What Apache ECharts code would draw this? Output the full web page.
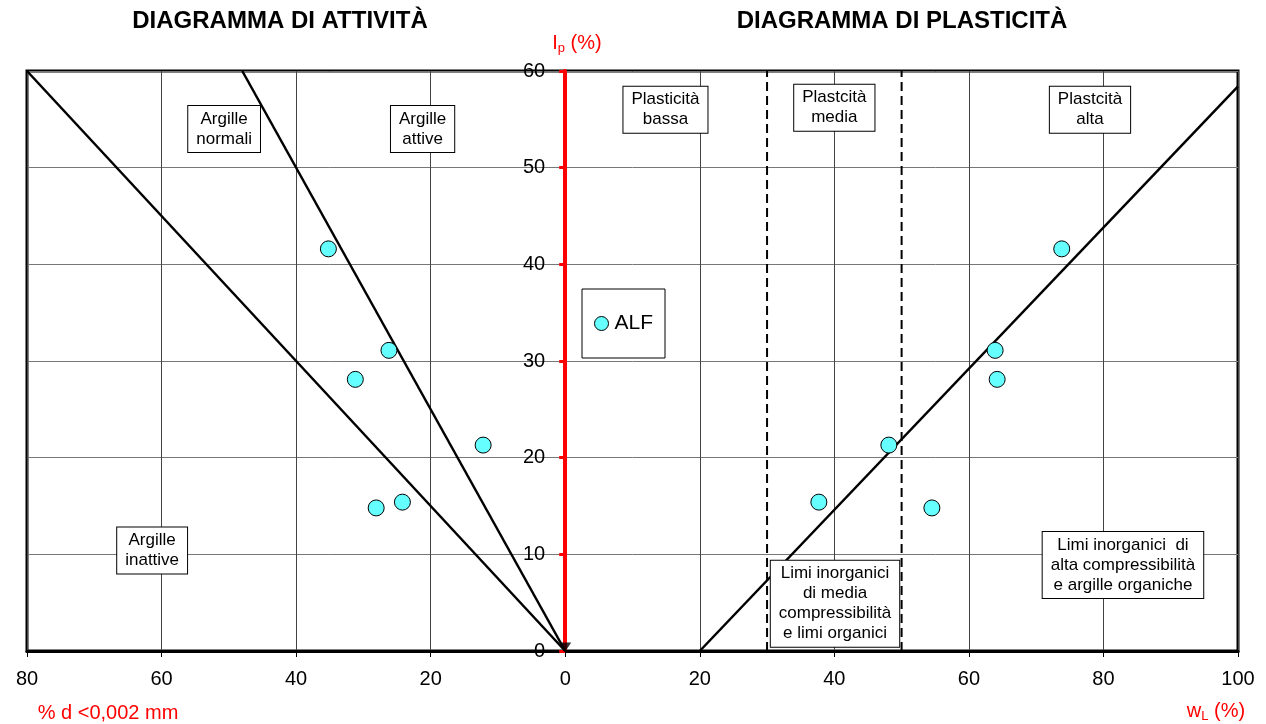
<!DOCTYPE html>
<html>
<head>
<meta charset="utf-8">
<title>Diagramma di attività / plasticità</title>
<script src="https://cdn.jsdelivr.net/npm/echarts@6/dist/echarts.min.js"></script>
<style>
  html, body { margin: 0; padding: 0; background: #fff; }
  #chart { width: 1266px; height: 724px; }
</style>
</head>
<body>
<div id="chart"></div>
<script>
// campioni ALF: Ip comune, frazione argillosa (lato sinistro, asse specchiato) e wL
const ipVals = [41.6, 31.1, 28.1, 21.3, 15.4, 14.8];
const clayVals = [-35.2, -26.2, -31.2, -12.2, -24.2, -28.1];
const wlVals = [73.8, 63.9, 64.2, 48.1, 37.7, 54.5];

// rette di attività (A = 0.75 e A = 1.25), linea A di Casagrande, limiti wL 30 / 50
const activityLow = [[-80, 60], [0, 0]];
const activityHigh = [[-48, 60], [0, 0]];
const aLine = [[20, 0], [100, 58.4]];
const wl30 = [[30, 0], [30, 60]];
const wl50 = [[50, 0], [50, 60]];

// riquadri di testo: [x, y, testo]
const notes = [
    [-50.7, 54.0, 'Argille\nnormali'],
    [-21.2, 54.0, 'Argille\nattive'],
    [-61.4, 10.4, 'Argille\ninattive'],
    [14.9, 56.0, 'Plasticità\nbassa'],
    [40.0, 56.2, 'Plastcità\nmedia'],
    [78.0, 56.0, 'Plastcità\nalta'],
    [40.1, 4.9, 'Limi inorganici\ndi media\ncompressibilità\ne limi organici'],
    [82.9, 8.9, 'Limi inorganici  di\nalta compressibilità\ne argille organiche']
];

const FONT = 'Liberation Sans, Arial, sans-serif';
const GRID_LEFT = 27;

const pointData = clayVals.map((c, i) => [c, ipVals[i]])
    .concat(wlVals.map((w, i) => [w, ipVals[i]]));

const lineSeries = (name, data, dashed) => ({
    name: name,
    type: 'line',
    data: data,
    symbol: 'none',
    silent: true,
    z: 3,
    lineStyle: { color: '#000', width: dashed ? 2 : 2.5, type: dashed ? [9, 5] : 'solid' }
});

const subRich = {
    m: { fontSize: 20, fontFamily: FONT, fill: '#ff0000', color: '#ff0000', lineHeight: 24, verticalAlign: 'middle' },
    s: { fontSize: 13, fontFamily: FONT, fill: '#ff0000', color: '#ff0000', lineHeight: 24, verticalAlign: 'bottom', padding: [10, 0, 0, 0] }
};

const chart = echarts.init(document.getElementById('chart'));
chart.setOption({
    animation: false,
    textStyle: { fontFamily: FONT },
    grid: {
        left: GRID_LEFT, right: 28, top: 71, bottom: 73,
        show: true, borderColor: '#000', borderWidth: 3,
        outerBoundsMode: 'none'
    },
    legend: {
        data: ['ALF'],
        left: 582, top: 289,
        padding: [24, 12],
        backgroundColor: '#fff',
        borderColor: '#000', borderWidth: 1,
        itemWidth: 14, itemHeight: 14, itemGap: 0,
        icon: 'circle',
        itemStyle: { borderWidth: 1, borderColor: '#000' },
        textStyle: { fontSize: 21, color: '#000', fontFamily: FONT, padding: [0, 0, 0, 1] }
    },
    xAxis: {
        type: 'value',
        min: -80, max: 100, interval: 20,
        axisLine: { lineStyle: { color: '#000', width: 3 } },
        axisTick: { show: true, length: 6, lineStyle: { color: '#000', width: 1 } },
        axisLabel: {
            fontSize: 20, color: '#000', margin: 18,
            formatter: v => String(Math.abs(v))
        },
        splitLine: { show: true, lineStyle: { color: '#444', width: 1 } }
    },
    yAxis: {
        type: 'value',
        position: 'left',
        min: 0, max: 60, interval: 10,
        axisLine: { show: true, onZero: false, lineStyle: { color: '#ff0000', width: 4 } },
        axisTick: { show: true, length: 6, lineStyle: { color: '#ff0000', width: 3 } },
        axisLabel: { fontSize: 20, color: '#000', margin: 20 },
        splitLine: { show: true, lineStyle: { color: '#777', width: 1 } }
    },
    graphic: [
        { type: 'text', x: 280, y: 21, z: 10,
          style: { text: 'DIAGRAMMA DI ATTIVITÀ', font: 'bold 24px ' + FONT, fill: '#000',
                   align: 'center', verticalAlign: 'middle' } },
        { type: 'text', x: 902, y: 21, z: 10,
          style: { text: 'DIAGRAMMA DI PLASTICITÀ', font: 'bold 24px ' + FONT, fill: '#000',
                   align: 'center', verticalAlign: 'middle' } },
        { type: 'text', x: 577, y: 43, z: 10,
          style: { text: '{m|I}{s|p}{m| (%)}', align: 'center', verticalAlign: 'middle', rich: subRich } },
        { type: 'text', x: 1216, y: 711, z: 10,
          style: { text: '{m|w}{s|L}{m| (%)}', align: 'center', verticalAlign: 'middle', rich: subRich } },
        { type: 'text', x: 108, y: 713, z: 10,
          style: { text: '% d <0,002 mm', font: '20px ' + FONT, fill: '#ff0000',
                   align: 'center', verticalAlign: 'middle' } }
    ],
    series: [
        lineSeries('A075', activityLow, false),
        lineSeries('A125', activityHigh, false),
        lineSeries('lineaA', aLine, false),
        lineSeries('wl30', wl30, true),
        lineSeries('wl50', wl50, true),
        {
            name: 'note',
            type: 'scatter',
            silent: true,
            z: 4,
            symbolSize: 1,
            itemStyle: { color: '#fff', opacity: 1 },
            data: notes.map(n => ({ value: [n[0], n[1]], text: n[2] })),
            label: {
                show: true,
                position: 'inside',
                formatter: p => p.data.text,
                fontSize: 17,
                lineHeight: 20,
                color: '#000000',
                opacity: 1,
                textBorderWidth: 0,
                textBorderColor: 'transparent',
                fontFamily: FONT,
                align: 'center',
                backgroundColor: '#fff',
                borderColor: '#000',
                borderWidth: 1,
                padding: [3, 8]
            }
        },
        {
            name: 'origine',
            type: 'scatter',
            silent: true,
            z: 6,
            data: [[0, 0]],
            symbol: 'triangle',
            symbolRotate: 180,
            symbolSize: [12, 9],
            symbolOffset: [0, -4],
            itemStyle: { color: '#000' }
        },
        {
            name: 'ALF',
            type: 'scatter',
            z: 5,
            data: pointData,
            symbol: 'circle',
            symbolSize: 16,
            itemStyle: { color: '#66ffff', borderColor: '#000', borderWidth: 1, opacity: 1 }
        }
    ]
});

// porta l'asse Ip sullo zero dell'asse x (linea, tacche ed etichette)
const zeroPx = chart.convertToPixel({ xAxisIndex: 0 }, 0);
chart.setOption({ yAxis: { offset: -(zeroPx - GRID_LEFT) } });
</script>
</body>
</html>
